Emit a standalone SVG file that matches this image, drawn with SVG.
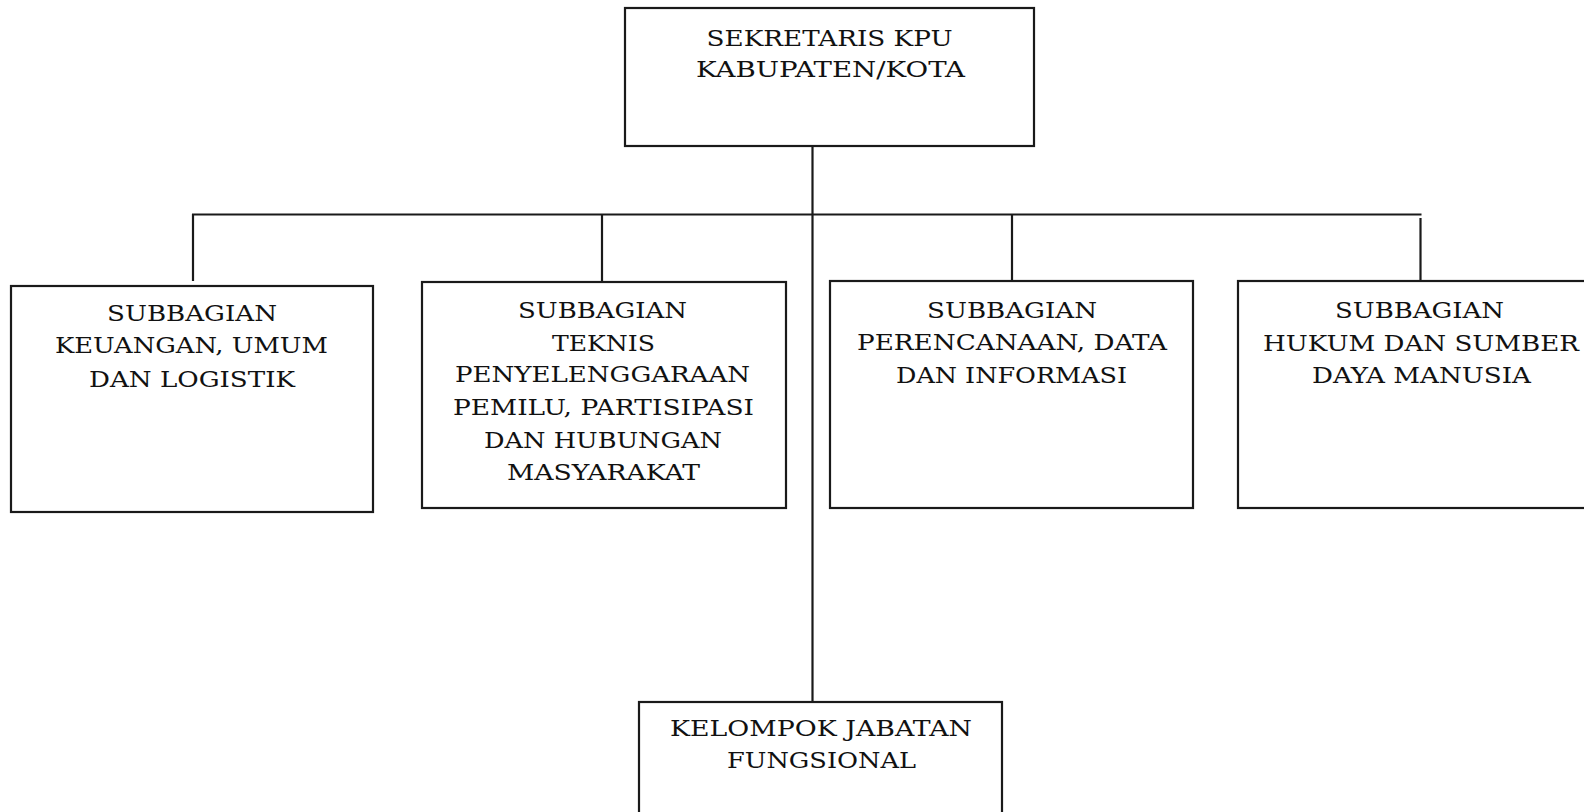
<svg xmlns="http://www.w3.org/2000/svg" width="1584" height="812" viewBox="0 0 1584 812">
<style>
.box{fill:#ffffff;stroke:#1a1a1a;stroke-width:2.2}
.ln{fill:none;stroke:#1a1a1a;stroke-width:2.2}
.t{font-family:"DejaVu Serif","Liberation Serif",serif;font-size:23px;fill:#111111;text-anchor:middle}
</style>
<rect width="1584" height="812" fill="#ffffff"/>
<g id="connectors">
<line class="ln" x1="812.5" y1="146" x2="812.5" y2="702"/>
<line class="ln" x1="192" y1="214.5" x2="1421.5" y2="214.5"/>
<line class="ln" x1="193" y1="214" x2="193" y2="281"/>
<line class="ln" x1="602" y1="214.5" x2="602" y2="282"/>
<line class="ln" x1="1012" y1="214.5" x2="1012" y2="281"/>
<line class="ln" x1="1420.5" y1="218" x2="1420.5" y2="281"/>
</g>
<g id="sekretaris">
<rect class="box" x="625" y="8" width="409" height="138"/>
<text class="t" x="829.5" y="46" textLength="246" lengthAdjust="spacingAndGlyphs">SEKRETARIS KPU</text>
<text class="t" x="830.5" y="77" textLength="269" lengthAdjust="spacingAndGlyphs">KABUPATEN/KOTA</text>
</g>
<g id="keuangan">
<rect class="box" x="11" y="286" width="362" height="226"/>
<text class="t" x="192" y="321" textLength="170" lengthAdjust="spacingAndGlyphs">SUBBAGIAN</text>
<text class="t" x="191.5" y="353" textLength="273" lengthAdjust="spacingAndGlyphs">KEUANGAN, UMUM</text>
<text class="t" x="192" y="387" textLength="206" lengthAdjust="spacingAndGlyphs">DAN LOGISTIK</text>
</g>
<g id="teknis">
<rect class="box" x="422" y="282" width="364" height="226"/>
<text class="t" x="602.5" y="318" textLength="169" lengthAdjust="spacingAndGlyphs">SUBBAGIAN</text>
<text class="t" x="603.5" y="351" textLength="103" lengthAdjust="spacingAndGlyphs">TEKNIS</text>
<text class="t" x="602.5" y="382" textLength="295" lengthAdjust="spacingAndGlyphs">PENYELENGGARAAN</text>
<text class="t" x="603.5" y="415" textLength="301" lengthAdjust="spacingAndGlyphs">PEMILU, PARTISIPASI</text>
<text class="t" x="603" y="448" textLength="238" lengthAdjust="spacingAndGlyphs">DAN HUBUNGAN</text>
<text class="t" x="603.5" y="480" textLength="193" lengthAdjust="spacingAndGlyphs">MASYARAKAT</text>
</g>
<g id="perencanaan">
<rect class="box" x="830" y="281" width="363" height="227"/>
<text class="t" x="1012" y="318" textLength="170" lengthAdjust="spacingAndGlyphs">SUBBAGIAN</text>
<text class="t" x="1012" y="350" textLength="310" lengthAdjust="spacingAndGlyphs">PERENCANAAN, DATA</text>
<text class="t" x="1011.5" y="383" textLength="231" lengthAdjust="spacingAndGlyphs">DAN INFORMASI</text>
</g>
<g id="hukum">
<rect class="box" x="1238" y="281" width="364" height="227"/>
<text class="t" x="1419.5" y="318" textLength="169" lengthAdjust="spacingAndGlyphs">SUBBAGIAN</text>
<text class="t" x="1421" y="351" textLength="316" lengthAdjust="spacingAndGlyphs">HUKUM DAN SUMBER</text>
<text class="t" x="1421.5" y="383" textLength="219" lengthAdjust="spacingAndGlyphs">DAYA MANUSIA</text>
</g>
<g id="fungsional">
<rect class="box" x="639" y="702" width="363" height="130"/>
<text class="t" x="821" y="736" textLength="302" lengthAdjust="spacingAndGlyphs">KELOMPOK JABATAN</text>
<text class="t" x="821.5" y="768" textLength="189" lengthAdjust="spacingAndGlyphs">FUNGSIONAL</text>
</g>
</svg>
